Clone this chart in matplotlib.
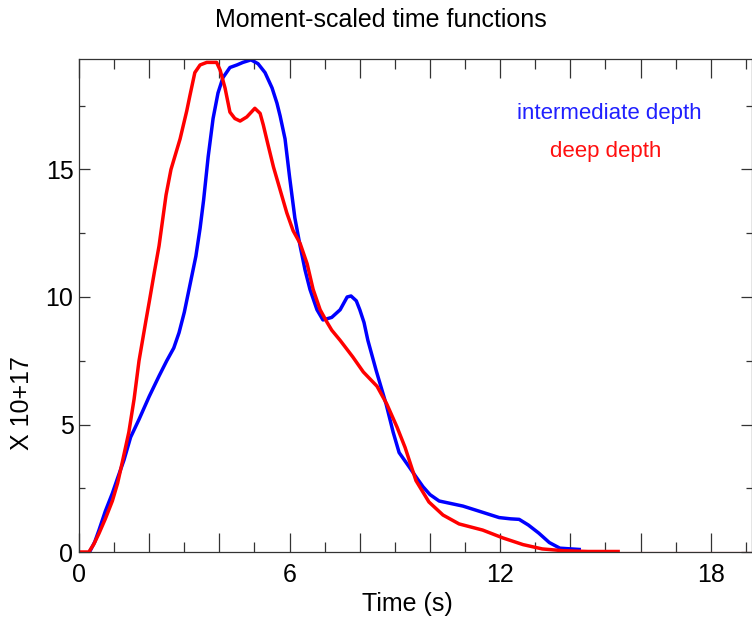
import numpy as np
import matplotlib
matplotlib.use("Agg")
import matplotlib.pyplot as plt
from matplotlib.ticker import MultipleLocator, FuncFormatter

plt.rcParams['font.family'] = ['Liberation Sans', 'DejaVu Sans']

# intermediate depth (blue) (x 10^17)
inter_t = [0.3, 0.45, 0.57, 0.75, 0.95, 1.1, 1.28, 1.47, 1.71, 2.0, 2.28, 2.5, 2.7,
           2.85, 3.0, 3.15, 3.33, 3.45, 3.55, 3.68, 3.82, 3.96, 4.1, 4.3, 4.5, 4.67,
           4.9, 5.1, 5.3, 5.5, 5.64, 5.73, 5.87, 6.0, 6.15, 6.3, 6.44, 6.58, 6.78,
           6.95, 7.2, 7.44, 7.64, 7.75, 7.9, 8.0, 8.12, 8.23, 8.35, 8.47, 8.75, 8.95,
           9.12, 9.4, 9.6, 9.8, 10.0, 10.26, 10.6, 10.94, 11.4, 11.97, 12.3, 12.54,
           12.8, 13.1, 13.4, 13.7, 14.25]
inter_v = [0.0, 0.4, 0.86, 1.6, 2.3, 2.9, 3.6, 4.5, 5.2, 6.1, 6.9, 7.5, 8.0,
           8.6, 9.4, 10.4, 11.6, 12.7, 13.8, 15.5, 17.0, 18.0, 18.6, 19.0, 19.1, 19.2,
           19.3, 19.15, 18.8, 18.2, 17.6, 17.1, 16.2, 14.7, 13.1, 12.0, 11.06, 10.3, 9.5,
           9.1, 9.2, 9.5, 10.0, 10.04, 9.85, 9.5, 9.0, 8.3, 7.7, 7.1, 5.8, 4.7,
           3.9, 3.35, 2.95, 2.56, 2.25, 2.0, 1.9, 1.8, 1.6, 1.35, 1.3, 1.28,
           1.06, 0.74, 0.37, 0.15, 0.1]

# deep depth (red)
deep_t = [0.0, 0.28, 0.42, 0.57, 0.75, 0.95, 1.1, 1.23, 1.42, 1.57, 1.71, 1.91, 2.0,
          2.15, 2.28, 2.48, 2.62, 2.75, 2.88, 3.07, 3.16, 3.3, 3.45, 3.64, 3.92, 4.02,
          4.16, 4.3, 4.44, 4.59, 4.78, 5.01, 5.16, 5.25, 5.38, 5.54, 5.73, 5.92, 6.1,
          6.3, 6.5, 6.67, 6.87, 7.07, 7.2, 7.44, 7.8, 8.1, 8.49, 8.77, 9.06, 9.29,
          9.6, 9.97, 10.37, 10.83, 11.5, 12.08, 12.65, 13.2, 13.8, 14.5, 15.36]
deep_v = [0.0, 0.0, 0.3, 0.73, 1.3, 2.0, 2.7, 3.5, 4.7, 6.0, 7.5, 9.1, 9.8,
          11.0, 12.0, 14.0, 15.0, 15.6, 16.2, 17.3, 17.9, 18.8, 19.1, 19.2, 19.2, 18.9,
          18.2, 17.25, 17.0, 16.9, 17.06, 17.4, 17.2, 16.75, 16.0, 15.1, 14.2, 13.3, 12.6,
          12.1, 11.3, 10.3, 9.5, 9.0, 8.7, 8.3, 7.65, 7.06, 6.5, 5.8, 4.9, 4.1,
          2.8, 1.96, 1.45, 1.1, 0.86, 0.55, 0.29, 0.12, 0.05, 0.02, 0.02]
deep_tail_t = [15.36, 19.2]
deep_tail_v = [0.0, 0.0]

fig = plt.figure(figsize=(7.52, 6.22), dpi=100)
ax = fig.add_axes([79/752, 70/622, 673/752, 493/622])

ax.plot(inter_t, inter_v, color='#0000ff', lw=2.5, solid_joinstyle='round')
ax.plot(deep_t, deep_v, color='#ff0000', lw=2.5, solid_joinstyle='round')
ax.plot(deep_tail_t, deep_tail_v, color='#ff0000', lw=0.8)

ax.set_xlim(0, 673/35.1)
ax.set_ylim(0, 493/25.5)

ax.xaxis.set_major_locator(MultipleLocator(2))
ax.xaxis.set_minor_locator(MultipleLocator(1))
ax.xaxis.set_major_formatter(FuncFormatter(lambda v, p: '%d' % v if round(v) % 6 == 0 else ''))
ax.yaxis.set_major_locator(MultipleLocator(5))
ax.yaxis.set_minor_locator(MultipleLocator(2.5))

ax.tick_params(axis='both', which='both', direction='in', top=True, right=True,
               color='#333333', width=0.9, labelsize=18)
ax.tick_params(axis='x', which='major', length=13.5, pad=8)
ax.tick_params(axis='x', which='minor', length=7)
ax.tick_params(axis='y', which='major', length=8, pad=4)
ax.tick_params(axis='y', which='minor', length=4)
for s in ax.spines.values():
    s.set_color('#333333')
    s.set_linewidth(0.9)

fig.text(381/752, 1 - 20/622, 'Moment-scaled time functions', ha='center', va='center', fontsize=18)
fig.text(407/752, 1 - 604/622, 'Time (s)', ha='center', va='center', fontsize=18)
fig.text(22/752, 1 - 403/622, 'X 10+17', ha='center', va='center', rotation=90, fontsize=18)

ax.text(609/752, 1 - 113/622, 'intermediate depth', color='#2020ff', ha='center', va='center',
        fontsize=16, transform=fig.transFigure)
ax.text(606/752, 1 - 152/622, 'deep depth', color='#ff1010', ha='center', va='center',
        fontsize=16, transform=fig.transFigure)

fig.savefig('out.png', dpi=100)
